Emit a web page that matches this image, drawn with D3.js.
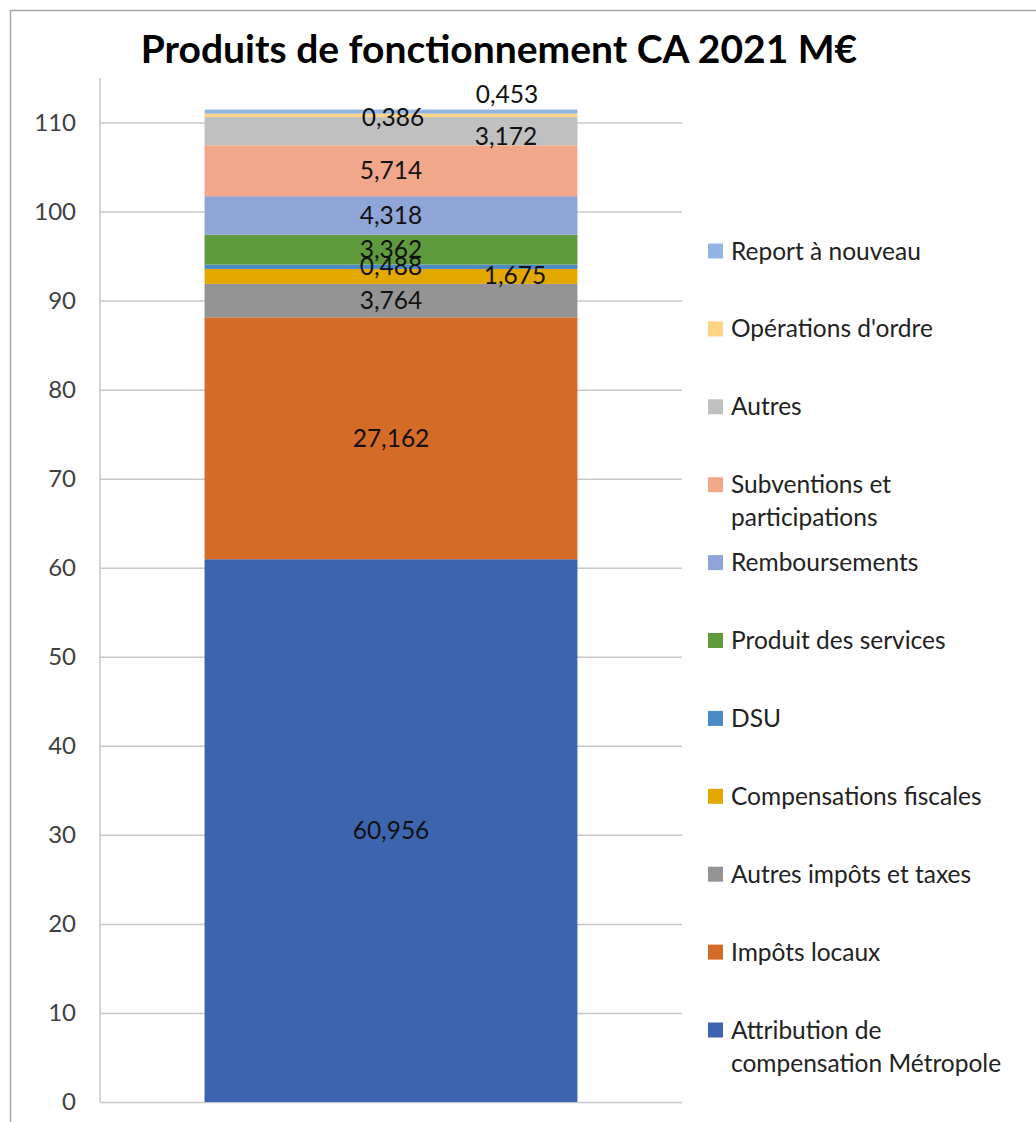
<!DOCTYPE html>
<html lang="fr">
<head>
<meta charset="utf-8">
<script src="https://d3js.org/d3.v7.min.js"></script>
<style>
  body { margin: 0; background: #fff; }
  text { font-family: Lato, "Liberation Sans", sans-serif; }
  .grid line { stroke: #c8c8c8; stroke-width: 1.5; }
  .grid .domain { display: none; }
  .yaxis text { fill: #404040; font-size: 24px; }
  .seglabel { fill: #111; font-size: 24.5px; text-anchor: middle; }
  .legend text { fill: #222; font-size: 24.5px; }
</style>
</head>
<body>
<svg id="chart" width="1036" height="1122"></svg>
<script>
// data, bottom of the stack first
var categories = ["Attribution de compensation Métropole", "Impôts locaux", "Autres impôts et taxes",
  "Compensations fiscales", "DSU", "Produit des services", "Remboursements",
  "Subventions et participations", "Autres", "Opérations d'ordre", "Report à nouveau"];
var values = [60.956, 27.162, 3.764, 1.675, 0.488, 3.362, 4.318, 5.714, 3.172, 0.386, 0.453];
var colors = ["#3d64ae", "#d46b27", "#949494", "#e3a800", "#4a8bc6", "#5f9a3c",
  "#8fa5d7", "#f2a68a", "#c0c0c0", "#fdd384", "#93b5e3"];
var yTicks = [0, 10, 20, 30, 40, 50, 60, 70, 80, 90, 100, 110];
var barName = ["CA 2021"];
// legend text as it wraps in the original
var legendLines = [["Attribution de", "compensation Métropole"], ["Impôts locaux"], ["Autres impôts et taxes"],
  ["Compensations fiscales"], ["DSU"], ["Produit des services"], ["Remboursements"],
  ["Subventions et", "participations"], ["Autres"], ["Opérations d'ordre"], ["Report à nouveau"]];

var svg = d3.select("#chart");

// outer frame of the chart area
svg.append("rect")
  .attr("x", 10.5).attr("y", 10.5)
  .attr("width", 1100).attr("height", 1200)
  .attr("fill", "none").attr("stroke", "#a6a6a6").attr("stroke-width", 1.5);

svg.append("text")
  .attr("x", 499).attr("y", 63)
  .attr("text-anchor", "middle")
  .style("font-size", "39px").style("font-weight", "bold").style("fill", "#000")
  .text("Produits de fonctionnement CA 2021 M€");

var left = 100, right = 682;
var y = d3.scaleLinear().domain([0, 115]).range([1102, 78]);
var x = d3.scaleBand().domain(barName).range([left, right]).padding(0.219);

// gridlines
svg.append("g").attr("class", "grid")
  .attr("transform", "translate(" + left + ",0)")
  .call(d3.axisLeft(y).tickValues(yTicks).tickSize(-(right - left)).tickFormat(""));

// y axis line
svg.append("line")
  .attr("x1", left).attr("x2", left).attr("y1", y(115)).attr("y2", y(0))
  .attr("stroke", "#c8c8c8").attr("stroke-width", 1.5);

svg.append("g").attr("class", "yaxis")
  .attr("transform", "translate(" + left + ",0)")
  .call(d3.axisLeft(y).tickValues(yTicks).tickSize(0).tickPadding(24))
  .call(function(g) { g.select(".domain").remove(); });

// stacked bar
var row = {};
categories.forEach(function(c, i) { row[c] = values[i]; });
var series = d3.stack().keys(categories)([row]);

svg.append("g").selectAll("rect")
  .data(series)
  .enter().append("rect")
  .attr("x", x(barName[0]))
  .attr("width", x.bandwidth())
  .attr("y", function(s) { return y(s[0][1]); })
  .attr("height", function(s) { return y(s[0][0]) - y(s[0][1]); })
  .attr("fill", function(s, i) { return colors[i]; });

// a few labels were moved by hand in the original
var nudge = {
  "Compensations fiscales": [124, -1],
  "Autres": [115, 5],
  "Opérations d'ordre": [2, 2],
  "Report à nouveau": [116, -17]
};
var fmt = function(v) { return d3.format(".3f")(v).replace(".", ","); };

svg.append("g").selectAll("text")
  .data(series)
  .enter().append("text")
  .attr("class", "seglabel")
  .attr("x", function(s) { return x(barName[0]) + x.bandwidth() / 2 + (nudge[s.key] ? nudge[s.key][0] : 0); })
  .attr("y", function(s) { return y((s[0][0] + s[0][1]) / 2) + (nudge[s.key] ? nudge[s.key][1] : 0); })
  .attr("dy", "0.35em")
  .text(function(s, i) { return fmt(values[i]); });

// legend, top entry is the last series
var legend = svg.append("g").attr("class", "legend");
var legY = d3.scaleLinear().domain([categories.length - 1, 0]).range([251, 1030]);
categories.forEach(function(c, i) {
  var g = legend.append("g").attr("transform", "translate(708," + legY(i) + ")");
  g.append("rect").attr("x", 0).attr("y", -7.5).attr("width", 15).attr("height", 15).attr("fill", colors[i]);
  var t = g.append("text");
  legendLines[i].forEach(function(l, k) {
    t.append("tspan").attr("x", 23).attr("y", k * 33).attr("dy", "0.35em").text(l);
  });
});
</script>
</body>
</html>
